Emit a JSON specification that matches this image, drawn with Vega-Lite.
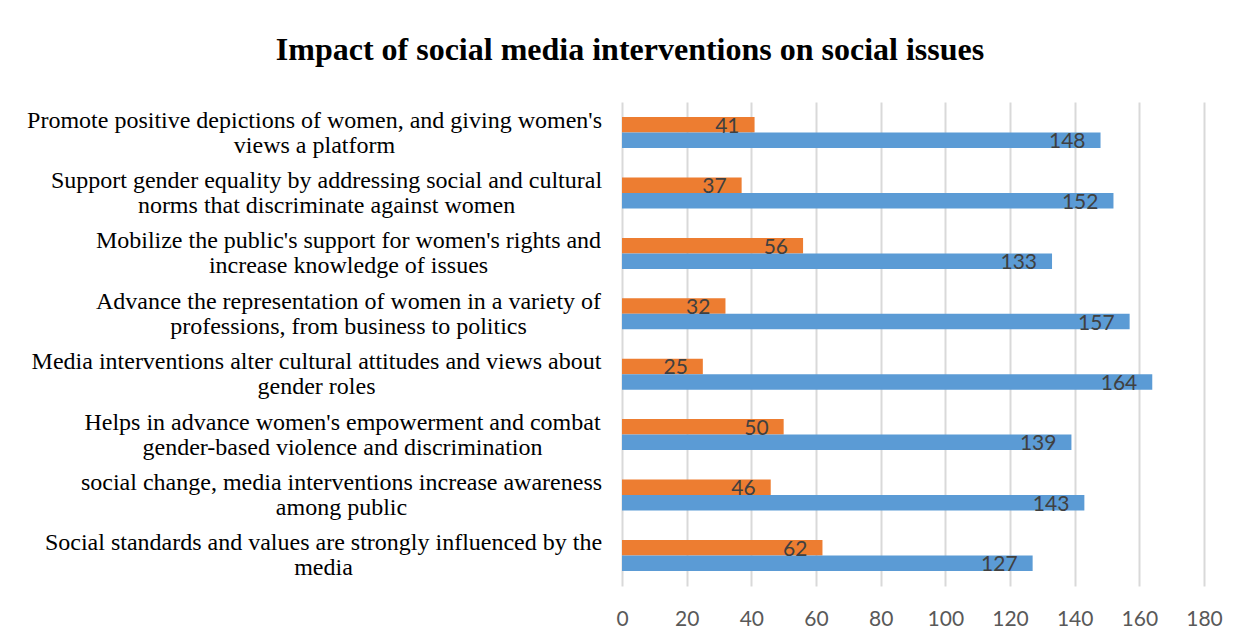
{
  "$schema": "https://vega.github.io/schema/vega-lite/v6.json",
  "width": 582,
  "height": 484,
  "autosize": {"type": "none"},
  "padding": {"left": 622, "top": 102, "right": 34, "bottom": 54},
  "background": "white",
  "title": {
    "text": "Impact of social media interventions on social issues",
    "font": "Liberation Serif",
    "fontSize": 32,
    "fontWeight": "bold",
    "color": "#000000",
    "anchor": "middle",
    "baseline": "alphabetic",
    "dx": -283,
    "offset": 10
  },
  "config": {
    "view": {"stroke": null},
    "axis": {"domain": false, "ticks": false}
  },
  "data": {
    "values": [
      {"category": "Promote positive depictions of women, and giving women's|views a platform", "series": "Disagree", "value": 41},
      {"category": "Promote positive depictions of women, and giving women's|views a platform", "series": "Agree", "value": 148},
      {"category": "Support gender equality by addressing social and cultural|norms that discriminate against women", "series": "Disagree", "value": 37},
      {"category": "Support gender equality by addressing social and cultural|norms that discriminate against women", "series": "Agree", "value": 152},
      {"category": "Mobilize the public's support for women's rights and|increase knowledge of issues", "series": "Disagree", "value": 56},
      {"category": "Mobilize the public's support for women's rights and|increase knowledge of issues", "series": "Agree", "value": 133},
      {"category": "Advance the representation of women in a variety of|professions, from business to politics", "series": "Disagree", "value": 32},
      {"category": "Advance the representation of women in a variety of|professions, from business to politics", "series": "Agree", "value": 157},
      {"category": "Media interventions alter cultural attitudes and views about|gender roles", "series": "Disagree", "value": 25},
      {"category": "Media interventions alter cultural attitudes and views about|gender roles", "series": "Agree", "value": 164},
      {"category": "Helps in advance women's empowerment and combat|gender-based violence and discrimination", "series": "Disagree", "value": 50},
      {"category": "Helps in advance women's empowerment and combat|gender-based violence and discrimination", "series": "Agree", "value": 139},
      {"category": "social change, media interventions increase awareness|among public", "series": "Disagree", "value": 46},
      {"category": "social change, media interventions increase awareness|among public", "series": "Agree", "value": 143},
      {"category": "Social standards and values are strongly influenced by the|media", "series": "Disagree", "value": 62},
      {"category": "Social standards and values are strongly influenced by the|media", "series": "Agree", "value": 127}
    ]
  },
  "encoding": {
    "y": {
      "field": "category",
      "type": "nominal",
      "sort": null,
      "scale": {"paddingInner": 0.487, "paddingOuter": 0.25},
      "axis": {
        "title": null,
        "grid": false,
        "labelExpr": "split(datum.label, '|')",
        "labelFont": "Liberation Serif",
        "labelFontSize": 24,
        "labelColor": "#000000",
        "labelLimit": 0,
        "labelLineHeight": 25,
        "labelAlign": "center",
        "labelBaseline": "middle",
        "labelOffset": -12,
        "labelPadding": {
          "condition": [
            {"test": "indexof(datum.value, 'Promote') == 0", "value": 308},
            {"test": "indexof(datum.value, 'Support') == 0", "value": 296},
            {"test": "indexof(datum.value, 'Mobilize') == 0", "value": 274},
            {"test": "indexof(datum.value, 'Advance') == 0", "value": 274},
            {"test": "indexof(datum.value, 'Media') == 0", "value": 306},
            {"test": "indexof(datum.value, 'Helps') == 0", "value": 280},
            {"test": "indexof(datum.value, 'social change') == 0", "value": 281}
          ],
          "value": 299
        }
      }
    },
    "yOffset": {
      "field": "series",
      "type": "nominal",
      "sort": ["Disagree", "Agree"],
      "scale": {"paddingInner": 0, "paddingOuter": 0}
    },
    "x": {
      "field": "value",
      "type": "quantitative",
      "scale": {"domain": [0, 180], "nice": false},
      "axis": {
        "title": null,
        "values": [0, 20, 40, 60, 80, 100, 120, 140, 160, 180],
        "grid": true,
        "gridColor": "#d9d9d9",
        "gridWidth": 2,
        "labelFlush": false,
        "labelFont": "Lato",
        "labelFontSize": 21,
        "labelColor": "#595959",
        "labelPadding": 22
      }
    }
  },
  "layer": [
    {
      "mark": {"type": "bar"},
      "encoding": {
        "color": {
          "field": "series",
          "type": "nominal",
          "scale": {"domain": ["Disagree", "Agree"], "range": ["#ED7D31", "#5B9BD5"]},
          "legend": null
        }
      }
    },
    {
      "mark": {
        "type": "text",
        "align": "right",
        "baseline": "middle",
        "dx": -15,
        "dy": 2,
        "font": "Lato",
        "fontSize": 21,
        "color": "#404040"
      },
      "encoding": {
        "text": {"field": "value", "type": "quantitative"}
      }
    }
  ]
}
